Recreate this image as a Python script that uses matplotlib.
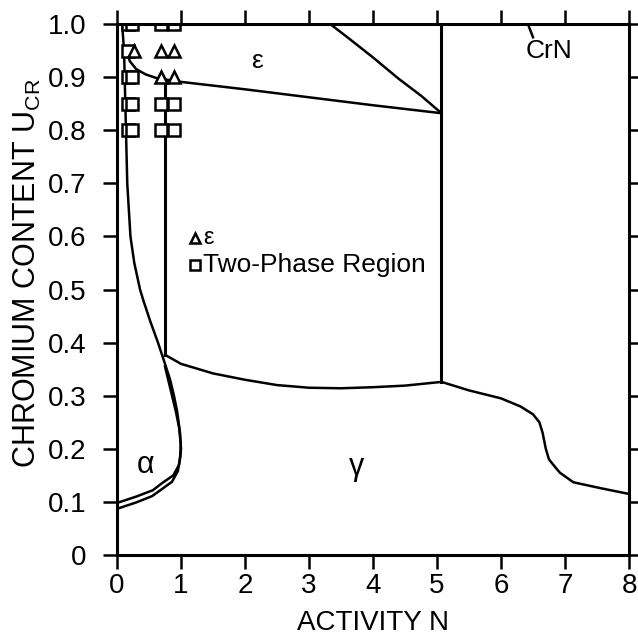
import matplotlib
matplotlib.use("Agg")
import matplotlib.pyplot as plt

plt.rcParams['font.family'] = ['Liberation Sans', 'DejaVu Sans']
plt.rcParams['mathtext.fontset'] = 'custom'
plt.rcParams['mathtext.rm'] = 'Liberation Sans'
plt.rcParams['mathtext.it'] = 'Liberation Sans'

# ---- data ----
alpha_outer_x = [0.08, 0.11, 0.12, 0.14, 0.16, 0.21, 0.27, 0.36, 0.41, 0.52, 0.64, 0.75, 0.83, 0.89, 0.94, 0.985, 1.00, 0.97, 0.88, 0.70, 0.56, 0.30, 0.00]
alpha_outer_y = [1.00, 0.95, 0.90, 0.80, 0.70, 0.60, 0.55, 0.50, 0.48, 0.44, 0.40, 0.36, 0.33, 0.30, 0.27, 0.23, 0.20, 0.17, 0.15, 0.135, 0.122, 0.11, 0.098]

alpha_inner_x = [0.75, 0.80, 0.86, 0.92, 0.97, 0.995, 0.99, 0.95, 0.86, 0.70, 0.55, 0.30, 0.00]
alpha_inner_y = [0.355, 0.33, 0.30, 0.27, 0.24, 0.21, 0.185, 0.158, 0.138, 0.124, 0.111, 0.099, 0.087]

eps_low_x = [0.15, 0.20, 0.30, 0.45, 0.62, 1.00, 1.50, 2.00, 3.00, 4.00, 5.07]
eps_low_y = [0.95, 0.93, 0.915, 0.905, 0.898, 0.891, 0.884, 0.877, 0.862, 0.847, 0.832]

eps_top_x = [3.33, 3.60, 4.00, 4.40, 4.75, 5.07]
eps_top_y = [1.00, 0.975, 0.937, 0.897, 0.865, 0.832]

gamma_mid_x = [0.75, 1.00, 1.50, 2.00, 2.50, 3.00, 3.50, 4.00, 4.50, 5.07]
gamma_mid_y = [0.377, 0.36, 0.342, 0.33, 0.32, 0.315, 0.314, 0.316, 0.319, 0.326]

gamma_right_x = [5.07, 5.50, 6.00, 6.30, 6.50, 6.60, 6.65, 6.70, 6.75, 6.85, 6.92, 7.13, 7.55, 8.00]
gamma_right_y = [0.326, 0.31, 0.295, 0.28, 0.265, 0.25, 0.23, 0.20, 0.18, 0.165, 0.155, 0.137, 0.126, 0.115]

vline1_x = [0.75, 0.75]
vline1_y = [0.377, 0.895]
vline2_x = [5.07, 5.07]
vline2_y = [0.326, 1.0]

square_x = [0.17, 0.24, 0.68, 0.89, 0.17, 0.24, 0.68, 0.89, 0.17, 0.24, 0.17, 0.24, 0.68, 0.89, 0.17]
square_y = [0.80, 0.80, 0.80, 0.80, 0.85, 0.85, 0.85, 0.85, 0.90, 0.90, 1.00, 1.00, 1.00, 1.00, 0.95]
tri_x = [0.27, 0.68, 0.89, 0.68, 0.89]
tri_y = [0.95, 0.95, 0.95, 0.90, 0.90]

x_ticks = [0, 1, 2, 3, 4, 5, 6, 7, 8]
y_ticks = [0, 0.1, 0.2, 0.3, 0.4, 0.5, 0.6, 0.7, 0.8, 0.9, 1.0]
y_tick_labels = ['0', '0.1', '0.2', '0.3', '0.4', '0.5', '0.6', '0.7', '0.8', '0.9', '1.0']

fig = plt.figure(figsize=(6.38, 6.4), dpi=100)
ax = fig.add_axes([0.1834, 0.1328, 0.8025, 0.8297])

lw = 1.8
for xs, ys in [(alpha_outer_x, alpha_outer_y), (alpha_inner_x, alpha_inner_y),
               (eps_low_x, eps_low_y), (eps_top_x, eps_top_y),
               (gamma_mid_x, gamma_mid_y), (gamma_right_x, gamma_right_y)]:
    ax.plot(xs, ys, color='black', lw=lw, solid_joinstyle='round')
ax.plot(vline1_x, vline1_y, color='black', lw=2.2)
ax.plot(vline2_x, vline2_y, color='black', lw=2.2)

ax.plot(square_x, square_y, 's', mfc='white', mec='black', mew=1.8, ms=8.5, ls='none')
ax.plot(tri_x, tri_y, '^', mfc='white', mec='black', mew=1.8, ms=8.5, ls='none')

# legend-like annotation
ax.plot([1.22], [0.597], '^', mfc='white', mec='black', mew=1.8, ms=7.5)
ax.text(1.34, 0.597, 'ε', fontsize=17, va='center', ha='left')
ax.plot([1.22], [0.546], 's', mfc='white', mec='black', mew=1.8, ms=7.5)
ax.text(1.34, 0.546, 'Two-Phase Region', fontsize=19, va='center', ha='left')

# region labels
ax.text(2.19, 0.93, 'ε', fontsize=19, ha='center', va='center')
ax.text(0.44, 0.17, 'α', fontsize=22, ha='center', va='center')
ax.text(3.75, 0.165, 'γ', fontsize=22, ha='center', va='center')
ax.text(6.38, 0.95, 'CrN', fontsize=19, ha='left', va='center')
ax.plot([6.42, 6.50], [1.0, 0.975], color='black', lw=1.8)

ax.set_xlim(0, 8)
ax.set_ylim(0, 1.0)
ax.set_xticks(x_ticks)
ax.set_xticklabels([str(v) for v in x_ticks])
ax.set_yticks(y_ticks)
ax.set_yticklabels(y_tick_labels)
ax.tick_params(direction='out', length=10, width=1.8, labelsize=20,
               top=True, right=True)
ax.tick_params(axis='x', pad=3)
ax.tick_params(axis='y', pad=12)
for s in ax.spines.values():
    s.set_linewidth(2.2)

ax.set_xlabel('ACTIVITY N', fontsize=20, labelpad=8)
ax.set_ylabel(r'CHROMIUM CONTENT U$_{\mathrm{CR}}$', fontsize=22)
ax.yaxis.set_label_coords(-0.145, 0.53)

fig.savefig('out.png', dpi=100)
